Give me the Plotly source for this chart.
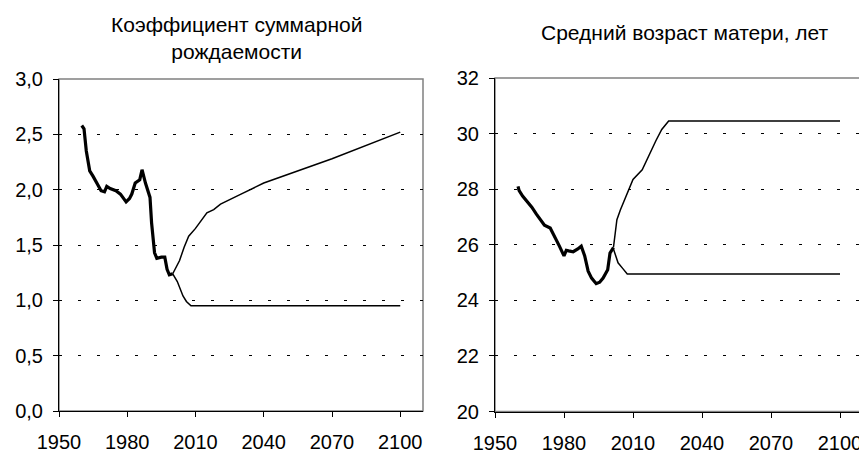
import plotly.graph_objects as go

# Коэффициент суммарной рождаемости
tfr_hist_years = [1960, 1961, 1962, 1963.5, 1965, 1966, 1968.5, 1970, 1971, 1972.5, 1975, 1977, 1979.5,
                  1981, 1982, 1983.5, 1985.5, 1986.5, 1988, 1990, 1990.7, 1992, 1993, 1995, 1996.5,
                  1997.5, 1998.5, 2000]
tfr_hist = [2.58, 2.55, 2.35, 2.17, 2.12, 2.08, 1.99, 1.98, 2.03, 2.01, 1.99, 1.96, 1.89,
            1.92, 1.96, 2.06, 2.09, 2.18, 2.06, 1.93, 1.70, 1.43, 1.38, 1.39, 1.39,
            1.28, 1.23, 1.24]
tfr_high_years = [2000, 2003, 2005, 2007, 2010, 2013, 2015, 2018, 2021, 2030, 2040, 2070, 2100]
tfr_high = [1.24, 1.36, 1.48, 1.58, 1.65, 1.73, 1.79, 1.82, 1.87, 1.96, 2.06, 2.28, 2.52]
tfr_low_years = [2000, 2002, 2004.5, 2006, 2008, 2100]
tfr_low = [1.24, 1.17, 1.04, 0.99, 0.95, 0.95]

# Средний возраст матери, лет
age_hist_years = [1960, 1960.5, 1962, 1964, 1966, 1968, 1970, 1971.5, 1974, 1976, 1978, 1980,
                  1981, 1982, 1984, 1986, 1987.5, 1989, 1990.5, 1992, 1994, 1995.5, 1997,
                  1999, 2000, 2001.5]
age_hist = [28.1, 27.95, 27.75, 27.55, 27.35, 27.1, 26.85, 26.7, 26.6, 26.3, 25.95, 25.6,
            25.8, 25.78, 25.75, 25.85, 25.95, 25.6, 25.05, 24.8, 24.6, 24.65, 24.8,
            25.1, 25.7, 25.9]
age_high_years = [2001.5, 2003, 2004.5, 2007.5, 2010, 2014, 2017.5, 2020, 2022.5, 2025.5, 2100]
age_high = [25.9, 26.9, 27.25, 27.85, 28.35, 28.7, 29.35, 29.75, 30.15, 30.45, 30.45]
age_low_years = [2001.5, 2003.5, 2005.5, 2007.5, 2100]
age_low = [25.85, 25.35, 25.15, 24.95, 24.95]

# the page body has an 8px margin, so the figure is drawn 8px smaller and shifted
OFF = 8
W, H = 867 - OFF, 454 - OFF
FONT = "Liberation Sans, Arial, sans-serif"


def px_x(x):
    return (x - OFF) / W


def px_y(y):
    return 1 - (y - OFF) / H


fig = go.Figure()

# left panel
fig.add_trace(go.Scatter(x=tfr_high_years, y=tfr_high, mode="lines",
                         line=dict(color="black", width=1.5), xaxis="x", yaxis="y"))
fig.add_trace(go.Scatter(x=tfr_low_years, y=tfr_low, mode="lines",
                         line=dict(color="black", width=1.5), xaxis="x", yaxis="y"))
fig.add_trace(go.Scatter(x=tfr_hist_years, y=tfr_hist, mode="lines",
                         line=dict(color="black", width=3.2), xaxis="x", yaxis="y"))

# right panel
fig.add_trace(go.Scatter(x=age_high_years, y=age_high, mode="lines",
                         line=dict(color="black", width=1.5), xaxis="x2", yaxis="y2"))
fig.add_trace(go.Scatter(x=age_low_years, y=age_low, mode="lines",
                         line=dict(color="black", width=1.5), xaxis="x2", yaxis="y2"))
fig.add_trace(go.Scatter(x=age_hist_years, y=age_hist, mode="lines",
                         line=dict(color="black", width=3.2), xaxis="x2", yaxis="y2"))

xcommon = dict(range=[1950, 2110], tick0=1950, dtick=30, showgrid=False, zeroline=False,
               showline=True, linecolor="black", linewidth=1, ticks="outside", ticklen=5,
               tickcolor="black", tickfont=dict(size=20, color="black"),
               ticklabelstandoff=8, automargin=False)
ycommon = dict(showgrid=True, gridcolor="black", gridwidth=1, griddash="3px,16px",
               zeroline=False, showline=True, linecolor="black", linewidth=1,
               ticks="outside", ticklen=5, tickcolor="black",
               tickfont=dict(size=20, color="black"), ticklabelstandoff=6,
               automargin=False)

fig.update_layout(
    width=W, height=H,
    margin=dict(l=0, r=0, t=0, b=0),
    paper_bgcolor="white", plot_bgcolor="rgba(0,0,0,0)",
    showlegend=False,
    separators=", ",
    font=dict(family=FONT, color="black"),
    xaxis=dict(domain=[px_x(59), px_x(423)], anchor="y", **xcommon),
    yaxis=dict(domain=[px_y(411), px_y(79)], anchor="x", range=[0, 3], dtick=0.5,
               tickformat=".1f", **ycommon),
    xaxis2=dict(domain=[px_x(495), px_x(863)], anchor="y2", **xcommon),
    yaxis2=dict(domain=[px_y(411.5), px_y(78)], anchor="x2", range=[20, 32], dtick=2,
                **ycommon),
)

# grey plot-area frame
for xr, yr in (("x domain", "y domain"), ("x2 domain", "y2 domain")):
    fig.add_shape(type="rect", xref=xr, yref=yr, x0=0, x1=1, y0=0, y1=1,
                  line=dict(color="#808080", width=1.5), layer="below")

fig.add_annotation(text="Коэффициент суммарной<br>рождаемости", x=px_x(236), y=px_y(38),
                   xref="paper", yref="paper", xanchor="center", yanchor="middle",
                   showarrow=False, font=dict(size=21, family=FONT, color="black"))
fig.add_annotation(text="Средний возраст матери, лет", x=px_x(685), y=px_y(32),
                   xref="paper", yref="paper", xanchor="center", yanchor="middle",
                   showarrow=False, font=dict(size=21, family=FONT, color="black"))

fig.write_html("out.html")
